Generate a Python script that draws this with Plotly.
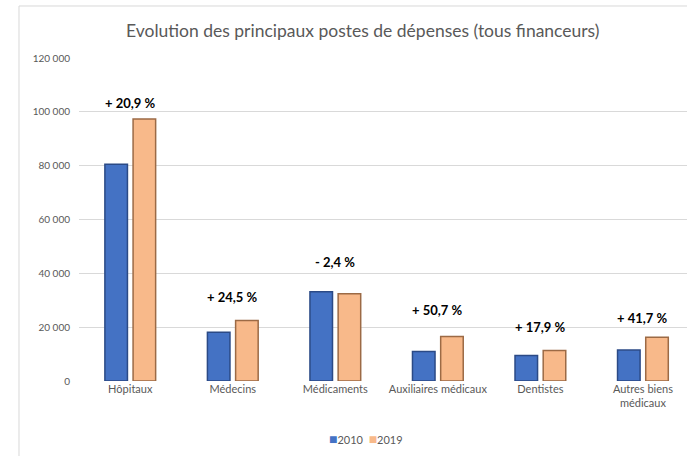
import plotly.graph_objects as go

CATEGORIES = ["Hôpitaux", "Médecins", "Médicaments", "Auxiliaires médicaux", "Dentistes", "Autres biens<br>médicaux"]
V2010 = [80500, 18100, 33200, 11000, 9500, 11500]
V2019 = [97300, 22500, 32400, 16500, 11300, 16300]
EVOLUTION = ["+ 20,9 %", "+ 24,5 %", "- 2,4 %", "+ 50,7 %", "+ 17,9 %", "+ 41,7 %"]
Y_TICKS = [0, 20000, 40000, 60000, 80000, 100000, 120000]
Y_TICK_TEXT = ["0", "20 000", "40 000", "60 000", "80 000", "100 000", "120 000"]
SERIES = ["2010", "2019"]

GREY = "#595959"
FONT = "Lato"
COLORS = {"2010": ("#4472C4", "#2B4A86"), "2019": ("#F8B98A", "#9C6A45")}
# decalage vertical (px) des etiquettes au-dessus des barres
LABEL_SHIFT = [16, 23, 30, 27, 24, 19]

fig = go.Figure()
for name, values in zip(SERIES, [V2010, V2019]):
    fill, edge = COLORS[name]
    fig.add_trace(go.Bar(x=CATEGORIES, y=values, name=name, showlegend=False,
                         marker=dict(color=fill, line=dict(color=edge, width=1.5))))

for cat, a, b, txt, dy in zip(CATEGORIES, V2010, V2019, EVOLUTION, LABEL_SHIFT):
    fig.add_annotation(x=cat, y=max(a, b), text=txt, showarrow=False, yanchor="middle", yshift=dy,
                       font=dict(family=FONT, size=13, color="#000000", weight="bold"))

# legende compacte facon Excel : petit carre + annee
legend_text = "&nbsp;&nbsp;".join(
    f"<span style='color:{COLORS[s][0]};font-size:14px'>■</span>{s}" for s in SERIES
)
fig.add_annotation(text=legend_text, xref="paper", yref="paper", x=(366 - 79) / 608, y=(381 - 438) / 323,
                   showarrow=False, xanchor="center", yanchor="middle",
                   font=dict(family=FONT, size=11, color=GREY))

# cadre du graphique
fig.add_shape(type="rect", xref="paper", yref="paper", x0=-0.0987, x1=1.2, y0=-0.5, y1=1.161,
              line=dict(color="#D9D9D9", width=1), layer="below")

fig.update_layout(
    width=687, height=456,
    margin=dict(l=79, r=0, t=58, b=75, autoexpand=False),
    paper_bgcolor="white", plot_bgcolor="white",
    barmode="group", bargap=0.45, bargroupgap=0.2,
    title=dict(text="Evolution des principaux postes de dépenses (tous financeurs)",
               x=0.528, xref="container", xanchor="center",
               y=1 - 31 / 456, yref="container", yanchor="middle",
               font=dict(family=FONT, size=17.5, color=GREY)),
    showlegend=False,
    font=dict(family=FONT, color=GREY),
)
fig.update_xaxes(range=[-0.5, 5.43], showline=False, tickfont=dict(family=FONT, size=11, color=GREY),
                 ticks="", showgrid=False, automargin=False)
fig.update_yaxes(range=[0, 120000], tickvals=Y_TICKS, ticktext=Y_TICK_TEXT,
                 tickfont=dict(family=FONT, size=10, color=GREY), showgrid=True,
                 gridcolor="#D9D9D9", gridwidth=1, zeroline=False, ticks="", ticklabelstandoff=8,
                 automargin=False)

# pas de marge de page ni de barre de defilement autour du graphique
fig.write_html("out.html", config={"displayModeBar": False},
               post_script="document.body.style.margin='0';document.body.style.overflow='hidden';")
